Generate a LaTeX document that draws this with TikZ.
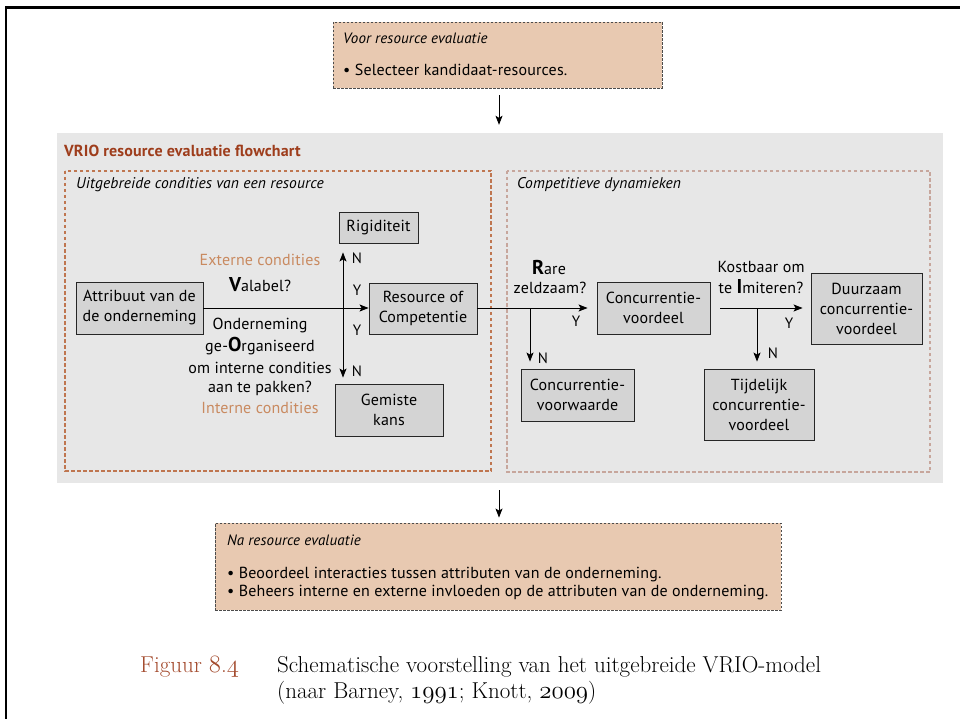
\documentclass[tikz,border=0pt]{standalone}
\usepackage{fontspec}
\setsansfont{PT Sans}[LetterSpace=1]
\usetikzlibrary{arrows.meta}

\definecolor{panelgray}{HTML}{E7E7E7}
\definecolor{nodefill}{HTML}{D4D4D4}
\definecolor{peach}{HTML}{E8C9B1}
\definecolor{rust}{HTML}{9E3D1C}
\definecolor{dashrust}{HTML}{BF7650}
\definecolor{dashrose}{HTML}{C7A69C}
\definecolor{condorange}{HTML}{C98A60}
\definecolor{capred}{HTML}{A34A2D}

\tikzset{
  txt/.style={font=\sffamily\fontsize{16}{20}\selectfont, inner sep=0pt, align=center},
  itxt/.style={font=\sffamily\itshape\fontsize{15.5}{18}\selectfont, inner sep=0pt, anchor=west},
  stepbox/.style={draw=black!85, fill=nodefill, line width=0.9pt, inner sep=0pt,
    align=center, font=\sffamily\fontsize{16}{20}\selectfont},
  notebox/.style={draw=black!70, fill=peach, line width=0.9pt, dash pattern=on 2.5pt off 1.5pt},
  flow/.style={line width=0.8pt, -{Stealth[length=9pt,width=7pt,inset=2pt]}},
  yn/.style={font=\sffamily\fontsize{15}{16}\selectfont, inner sep=0pt},
  cond/.style={txt, text=condorange},
  captxt/.style={anchor=west, inner sep=0pt, font=\rmfamily\fontsize{23}{26}\selectfont},
}
\newcommand{\bigletter}[1]{{\bfseries\fontsize{20}{20}\selectfont #1}}
\newcommand{\osdigits}[1]{{\usefont{OML}{cmm}{m}{it}#1}}

\begin{document}
\begin{tikzpicture}[x=1pt,y=-1pt]
\useasboundingbox (0,0) rectangle (960,719);

% page frame
\draw[line width=2.6pt] (960,7.5) -- (6,7.5) -- (6,719);

% before evaluation
\node[notebox, minimum width=329pt, minimum height=66pt, inner sep=0pt] (tb) at (497.5,55) {};
\node[itxt, font=\sffamily\itshape\fontsize{15}{16}\selectfont] (tbt) at (343,38) {Voor resource evaluatie};
\node[txt, anchor=west] (tbl) at (343,70) {\textbullet\ Selecteer kandidaat-resources.};

% flowchart panel
\node[fill=panelgray, minimum width=886pt, minimum height=350pt, inner sep=0pt] (panel) at (500,308) {};
\node[anchor=west, inner sep=0pt, text=rust, font=\sffamily\bfseries\fontsize{16}{18}\selectfont] (ptitle) at (64,151) {VRIO resource evaluatie flowchart};

\draw[dashrust, line width=1.1pt, dash pattern=on 3.5pt off 2.5pt] (65,171) rectangle (491,471);
\draw[dashrose, line width=1.1pt, dash pattern=on 3.5pt off 2.5pt] (507,171) rectangle (930,472);
\node[itxt] (lhead) at (76,185) {Uitgebreide condities van een resource};
\node[itxt] (rhead) at (517,185) {Competitieve dynamieken};

% boxes
\node[stepbox, minimum width=127pt, minimum height=52pt] (attr) at (139.5,308) {Attribuut van de\\de onderneming};
\node[stepbox, minimum width=79pt, minimum height=31pt] (rig) at (378.5,227.5) {Rigiditeit};
\node[stepbox, minimum width=108pt, minimum height=51pt] (res) at (423,308.5) {Resource of\\Competentie};
\node[stepbox, minimum width=108pt, minimum height=52pt] (gem) at (389,410) {Gemiste\\kans};
\node[stepbox, minimum width=113pt, minimum height=52pt] (cvw) at (577.5,395) {Concurrentie-\\voorwaarde};
\node[stepbox, minimum width=113pt, minimum height=52pt] (cvd) at (653.5,308) {Concurrentie-\\voordeel};
\node[stepbox, minimum width=111pt, minimum height=71pt] (dur) at (866.5,308.5) {Duurzaam\\concurrentie-\\voordeel};
\node[stepbox, minimum width=110pt, minimum height=71pt] (tij) at (759,404.5) {Tijdelijk\\concurrentie-\\voordeel};

% junctions
\coordinate (vj) at (343,308);
\coordinate (rj) at (530,308);
\coordinate (ij) at (757,308);

% connectors
\draw[flow] (attr.east |- vj) -- (res.west |- vj);
\draw[flow, shorten >=9pt] (vj) -- (rig.south -| vj);
\draw[flow, shorten >=6pt] (vj) -- (gem.north -| vj);
\draw[flow, shorten >=9pt] (res.east |- rj) -- (cvd.west |- rj);
\draw[flow, shorten >=7pt] (rj) -- (cvw.north -| rj);
\draw[flow, shorten <=10pt, shorten >=8pt] (cvd.east |- ij) -- (dur.west |- ij);
\draw[flow, shorten >=7pt] (ij) -- (tij.north -| ij);

% VRIO questions
\node[cond] (ext) at (260,260) {Externe condities};
\node[txt] (qv) at (260,285) {\bigletter{V}alabel?};
\node[txt] (qo1) at (260,325) {Onderneming};
\node[txt] (qo2) at (260,346) {ge-\bigletter{O}rganiseerd};
\node[txt] (qo3) at (260,368) {om interne condities};
\node[txt] (qo4) at (260,388) {aan te pakken?};
\node[cond] (int) at (260,408) {Interne condities};

\node[txt] (qr1) at (549,267) {\bigletter{R}are};
\node[txt] (qr2) at (550,288) {zeldzaam?};
\node[txt] (qi1) at (761,267) {Kostbaar om};
\node[txt] (qi2) at (761,287) {te \bigletter{I}miteren?};

% answer labels
\node[yn] (n1) at (357,258) {N};
\node[yn] (y1) at (357,290) {Y};
\node[yn] (y2) at (357,330) {Y};
\node[yn] (n2) at (357,371) {N};
\node[yn] (y3) at (576,321) {Y};
\node[yn] (n3) at (543,358) {N};
\node[yn] (y4) at (789,323) {Y};
\node[yn] (n4) at (773,353) {N};

% after evaluation
\node[notebox, minimum width=566pt, minimum height=87pt, inner sep=0pt] (bb) at (498,566.5) {};
\node[itxt, font=\sffamily\itshape\fontsize{15}{16}\selectfont] (bbt) at (227,540) {Na resource evaluatie};
\node[txt, anchor=west] (bl1) at (227,575) {\textbullet\ Beoordeel interacties tussen attributen van de onderneming.};
\node[txt, anchor=west] (bl2) at (227,593) {\textbullet\ Beheers interne en externe invloeden op de attributen van de onderneming.};

\draw[flow, shorten <=7pt, shorten >=8pt] (tb.south -| 499,0) -- (panel.north -| 499,0);
\draw[flow, shorten <=7pt, shorten >=5pt] (panel.south -| 499,0) -- (bb.north -| 499,0);

% caption
\node[captxt, text=capred] (capnum) at (140,667) {Figuur \osdigits{8}.\osdigits{4}};
\node[captxt] (cap1) at (277,667) {Schematische voorstelling van het uitgebreide VRIO-model};
\node[captxt] (cap2) at (277,693) {(naar Barney, \osdigits{1991}; Knott, \osdigits{2009})};
\end{tikzpicture}
\end{document}
